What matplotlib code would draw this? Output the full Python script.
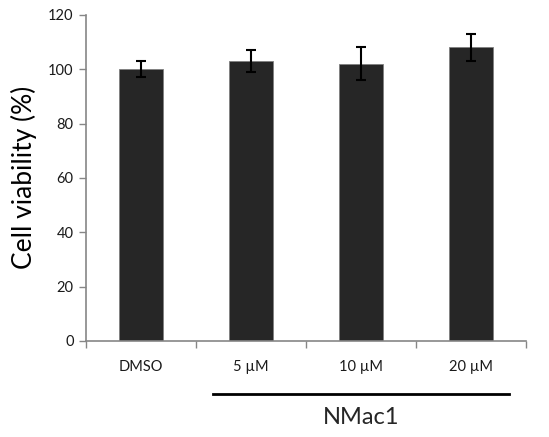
import matplotlib
matplotlib.use("Agg")
from matplotlib import pyplot as plt
import numpy as np

plt.rcParams["font.family"] = ["Lato", "DejaVu Sans"]
plt.rcParams["text.color"] = "#262626"
plt.rcParams["xtick.labelcolor"] = "#1a1a1a"
plt.rcParams["ytick.labelcolor"] = "#1a1a1a"

categories = ["DMSO", "5 µM", "10 µM", "20 µM"]
viability = [100, 103, 102, 108]
errors = [3, 4, 6, 5]
group_label = "NMac1"
yticks = [0, 20, 40, 60, 80, 100, 120]

fig = plt.figure(figsize=(5.49, 4.37), dpi=100)
ax = fig.add_axes([0.157, 0.22, 0.801, 0.746])

x = np.arange(len(categories))
ax.bar(x, viability, width=0.4, color="#262626", edgecolor="#7f7f7f", linewidth=0.6,
       yerr=errors, capsize=3.5, error_kw=dict(ecolor="black", elinewidth=1.5, capthick=1.5))

ax.set_xlim(-0.5, len(categories) - 0.5)
ax.set_ylim(0, 120)
ax.set_yticks(yticks)
ax.tick_params(axis="y", labelsize=10.5, length=5, color="#868686", width=1, pad=4)

# labels in the middle of each category, ticks on the boundaries
ax.set_xticks(np.arange(len(categories) + 1) - 0.5)
ax.set_xticklabels([])
ax.set_xticks(x, minor=True)
ax.set_xticklabels(categories, minor=True, fontsize=10.5)
ax.tick_params(axis="x", which="major", length=5, color="#868686", width=1)
ax.tick_params(axis="x", which="minor", length=0, pad=14)

for s in ["top", "right"]:
    ax.spines[s].set_visible(False)
for s in ["left", "bottom"]:
    ax.spines[s].set_color("#868686")
    ax.spines[s].set_linewidth(1.2)

ax.set_ylabel("Cell viability (%)", fontsize=19)
ax.yaxis.set_label_coords(-0.112, 0.5)

# group bracket under the treatment bars
trans = ax.get_xaxis_transform()
ax.plot([0.655, 3.345], [-0.163, -0.163], color="black", lw=2, transform=trans, clip_on=False)
ax.text(2.0, -0.236, group_label, transform=trans, ha="center", va="center", fontsize=17)

fig.savefig("out.png", dpi=100)
